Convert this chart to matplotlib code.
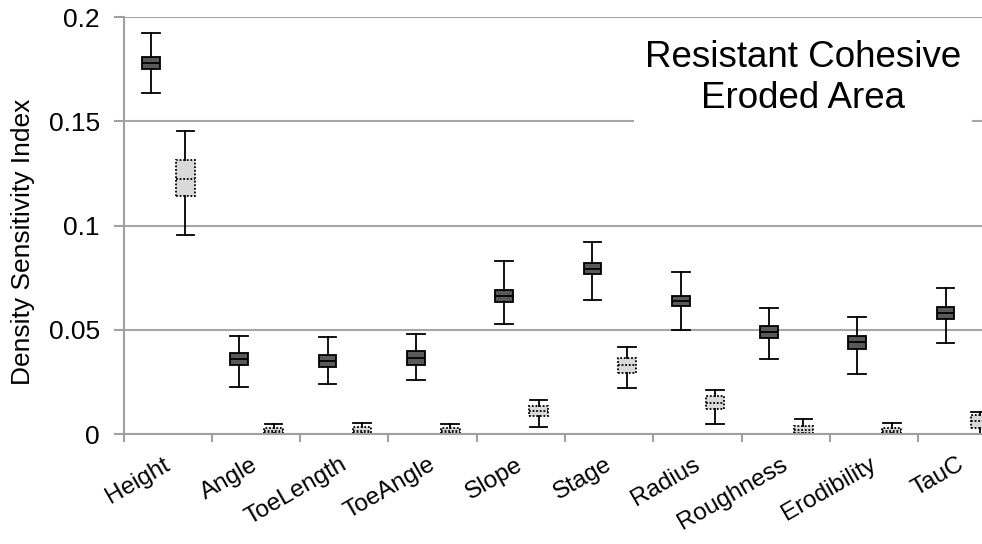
import matplotlib.pyplot as plt
import matplotlib.transforms as mtransforms

plt.rcParams['font.family'] = ['Liberation Sans', 'DejaVu Sans']

categories = ['Height', 'Angle', 'ToeLength', 'ToeAngle', 'Slope', 'Stage',
              'Radius', 'Roughness', 'Erodibility', 'TauC']

# dark boxes
dark_lo = [0.1637, 0.0225, 0.0240, 0.0260, 0.0530, 0.0643, 0.0499, 0.0360, 0.0288, 0.0437]
dark_q1 = [0.1750, 0.0330, 0.0320, 0.0330, 0.0635, 0.0766, 0.0614, 0.0460, 0.0410, 0.0550]
dark_med = [0.1780, 0.0360, 0.0350, 0.0365, 0.0660, 0.0790, 0.0640, 0.0490, 0.0440, 0.0580]
dark_q3 = [0.1810, 0.0390, 0.0380, 0.0400, 0.0690, 0.0819, 0.0663, 0.0520, 0.0470, 0.0610]
dark_hi = [0.1925, 0.0470, 0.0465, 0.0480, 0.0830, 0.0922, 0.0777, 0.0604, 0.0560, 0.0700]

# light boxes
light_lo = [0.0954, 0.0000, 0.0000, 0.0000, 0.0035, 0.0222, 0.0050, 0.0000, 0.0000, 0.0000]
light_q1 = [0.1143, 0.0005, 0.0005, 0.0005, 0.0086, 0.0294, 0.0120, 0.0005, 0.0006, 0.0030]
light_med = [0.1222, 0.0015, 0.0015, 0.0015, 0.0110, 0.0330, 0.0150, 0.0020, 0.0015, 0.0060]
light_q3 = [0.1314, 0.0030, 0.0032, 0.0030, 0.0134, 0.0366, 0.0180, 0.0040, 0.0030, 0.0090]
light_hi = [0.1453, 0.0050, 0.0055, 0.0050, 0.0163, 0.0416, 0.0210, 0.0070, 0.0055, 0.0105]


def make_stats(lo, q1, med, q3, hi):
    return [dict(whislo=a, q1=b, med=c, q3=d, whishi=e, fliers=[])
            for a, b, c, d, e in zip(lo, q1, med, q3, hi)]


fig = plt.figure(figsize=(9.82, 5.44), dpi=100)
ax = fig.add_axes([0.1258, 0.2022, 0.8992, 0.7665])

n = len(categories)
pos = list(range(n))

ax.bxp(make_stats(dark_lo, dark_q1, dark_med, dark_q3, dark_hi),
       positions=[p - 0.19 for p in pos], widths=0.2, patch_artist=True,
       showfliers=False,
       boxprops=dict(facecolor='#595959', edgecolor='black', linewidth=1.3),
       medianprops=dict(color='black', linewidth=1.3),
       whiskerprops=dict(color='black', linewidth=1.3),
       capprops=dict(color='black', linewidth=1.3), capwidths=0.2)

ax.bxp(make_stats(light_lo, light_q1, light_med, light_q3, light_hi),
       positions=[p + 0.2 for p in pos], widths=0.21, patch_artist=True,
       showfliers=False,
       boxprops=dict(facecolor='#d9d9d9', edgecolor='black', linewidth=1.3,
                     linestyle=(0, (1, 1))),
       medianprops=dict(color='black', linewidth=1.3, linestyle=(0, (1, 1))),
       whiskerprops=dict(color='black', linewidth=1.3),
       capprops=dict(color='black', linewidth=1.3), capwidths=0.2)

ax.set_xlim(-0.5, n - 0.5)
ax.set_ylim(0, 0.2)
ax.set_yticks([0, 0.05, 0.1, 0.15, 0.2])
ax.set_yticklabels(['0', '0.05', '0.1', '0.15', '0.2'], fontsize=19)
ax.set_xticks(pos)
ax.set_xticklabels(categories, rotation=30, ha='right', fontsize=17.5)
ax.tick_params(axis='x', length=0, pad=14)
# nudge the rotated labels a little to the right
shift = mtransforms.ScaledTranslation(6 / 100, 0, fig.dpi_scale_trans)
for lab in ax.get_xticklabels():
    lab.set_transform(lab.get_transform() + shift)
ax.set_xticks([p + 0.5 for p in range(-1, n)], minor=True)
ax.tick_params(axis='x', which='minor', length=6, color='#a0a0a0', width=1.5)
ax.tick_params(axis='y', length=7, color='#a0a0a0', width=1.5, pad=10)

ax.yaxis.grid(True, color='#a6a6a6', linewidth=1.5)
ax.set_axisbelow(True)
for s in ['top', 'right']:
    ax.spines[s].set_visible(False)
for s in ['left', 'bottom']:
    ax.spines[s].set_color('#a0a0a0')
    ax.spines[s].set_linewidth(1.5)

ax.set_ylabel('Density Sensitivity Index', fontsize=19)
ax.yaxis.set_label_coords(-0.1, 0.46)

fig.text(803 / 982, 1 - 78 / 544, 'Resistant Cohesive\nEroded Area', fontsize=26.5,
         ha='center', va='center', linespacing=1.2, zorder=1,
         bbox=dict(facecolor='white', edgecolor='none', pad=8))

fig.savefig('out.png', dpi=100)
